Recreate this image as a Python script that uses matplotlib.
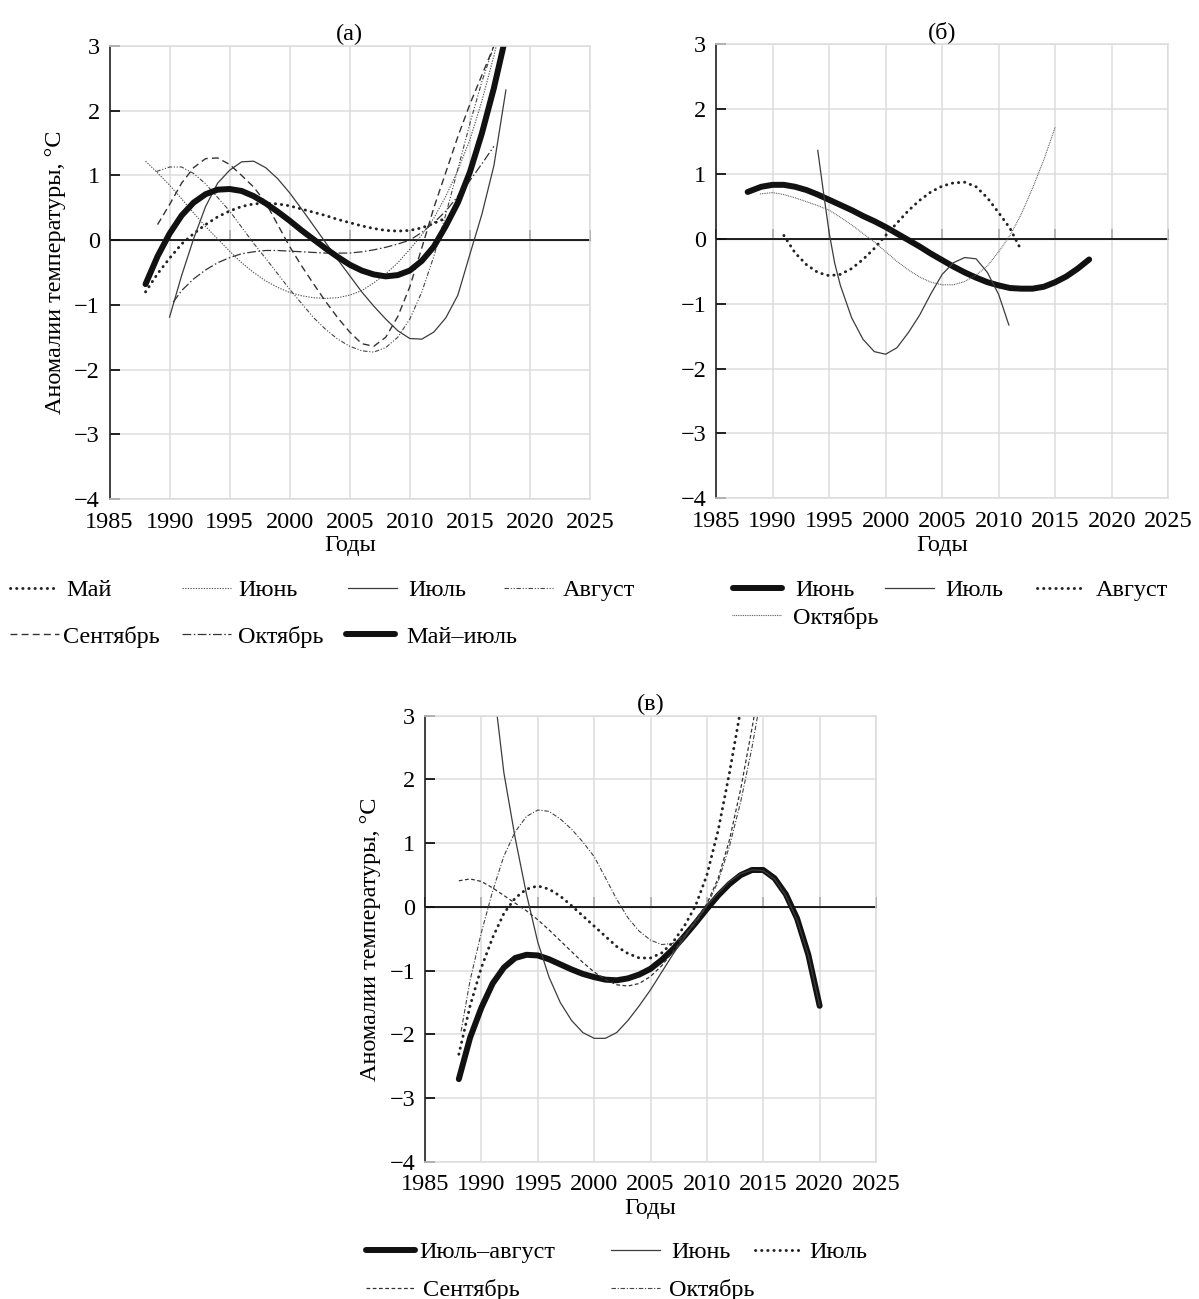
import matplotlib
matplotlib.use("Agg")
import matplotlib.pyplot as plt

plt.rcParams['font.family'] = ['Liberation Serif', 'DejaVu Serif']
plt.rcParams['axes.unicode_minus'] = True

W, H = 1199, 1299
FS = 17.5

# ---------------- panel (а) ----------------
a_may_x = [1988, 1989, 1990, 1991, 1992, 1993, 1994, 1995, 1996, 1997, 1998, 1999, 2000,
           2001, 2002, 2003, 2004, 2005, 2006, 2007, 2008, 2009, 2010, 2011, 2012, 2013]
a_may_y = [-0.80, -0.52, -0.28, -0.06, 0.10, 0.24, 0.36, 0.45, 0.52, 0.56, 0.57, 0.56, 0.53,
           0.48, 0.43, 0.38, 0.32, 0.27, 0.22, 0.18, 0.15, 0.14, 0.15, 0.19, 0.26, 0.34]

a_jun_x = [1988, 1989, 1990, 1991, 1992, 1993, 1994, 1995, 1996, 1997, 1998, 1999, 2000, 2001,
           2002, 2003, 2004, 2005, 2006, 2007, 2008, 2009, 2010, 2011, 2012, 2013, 2014, 2015,
           2016, 2017, 2017.2]
a_jun_y = [1.22, 1.04, 0.85, 0.64, 0.42, 0.21, 0.02, -0.17, -0.35, -0.50, -0.63, -0.73, -0.81,
           -0.86, -0.89, -0.90, -0.89, -0.85, -0.78, -0.66, -0.52, -0.35, -0.14, 0.08, 0.34,
           0.68, 1.08, 1.55, 2.15, 2.85, 3.0]

a_jul_x = [1990, 1991, 1992, 1993, 1994, 1995, 1996, 1997, 1998, 1999, 2000, 2001, 2002, 2003,
           2004, 2005, 2006, 2007, 2008, 2009, 2010, 2011, 2012, 2013, 2014, 2015, 2016, 2017,
           2018]
a_jul_y = [-1.19, -0.55, 0.02, 0.52, 0.88, 1.08, 1.21, 1.22, 1.12, 0.95, 0.73, 0.48, 0.22,
           -0.04, -0.30, -0.55, -0.80, -1.02, -1.22, -1.40, -1.52, -1.53, -1.42, -1.20, -0.85,
           -0.22, 0.40, 1.15, 2.32]

a_aug_x = [1988.9, 1990, 1991, 1992, 1993, 1994, 1995, 1996, 1997, 1998, 1999, 2000, 2001,
           2002, 2003, 2004, 2005, 2006, 2007, 2008, 2009, 2010, 2011, 2012, 2013, 2014, 2015,
           2016, 2017]
a_aug_y = [1.06, 1.13, 1.13, 1.03, 0.87, 0.66, 0.45, 0.20, -0.05, -0.28, -0.52, -0.76, -0.98,
           -1.20, -1.38, -1.53, -1.64, -1.71, -1.73, -1.66, -1.50, -1.22, -0.80, -0.25, 0.40,
           1.10, 1.80, 2.45, 3.0]

a_sep_x = [1989, 1990, 1991, 1992, 1993, 1994, 1995, 1996, 1997, 1998, 1999, 2000, 2001, 2002,
           2003, 2004, 2005, 2006, 2007, 2008, 2009, 2010, 2011, 2012, 2013, 2014, 2015, 2016,
           2017]
a_sep_y = [0.24, 0.55, 0.88, 1.12, 1.26, 1.27, 1.17, 1.00, 0.82, 0.58, 0.24, -0.10, -0.40,
           -0.68, -0.95, -1.20, -1.42, -1.60, -1.64, -1.50, -1.18, -0.72, -0.12, 0.50, 1.05,
           1.60, 2.10, 2.55, 3.0]

a_oct_x = [1990.3, 1991, 1992, 1993, 1994, 1995, 1996, 1997, 1998, 1999, 2000, 2001, 2002,
           2003, 2004, 2005, 2006, 2007, 2008, 2009, 2010, 2011, 2012, 2013, 2014, 2015, 2016,
           2017]
a_oct_y = [-0.96, -0.78, -0.60, -0.46, -0.35, -0.27, -0.21, -0.18, -0.16, -0.16, -0.17, -0.18,
           -0.19, -0.20, -0.20, -0.20, -0.18, -0.15, -0.11, -0.06, 0.00, 0.12, 0.27, 0.45, 0.68,
           0.92, 1.18, 1.45]

a_mj_x = [1988, 1989, 1990, 1991, 1992, 1993, 1994, 1995, 1996, 1997, 1998, 1999, 2000, 2001,
          2002, 2003, 2004, 2005, 2006, 2007, 2008, 2009, 2010, 2011, 2012, 2013, 2014, 2015,
          2016, 2017, 2017.8]
a_mj_y = [-0.68, -0.25, 0.10, 0.38, 0.58, 0.71, 0.78, 0.79, 0.76, 0.68, 0.57, 0.44, 0.30, 0.15,
          0.01, -0.13, -0.26, -0.38, -0.47, -0.53, -0.56, -0.54, -0.47, -0.32, -0.10, 0.22,
          0.58, 1.05, 1.65, 2.35, 3.0]

# ---------------- panel (б) ----------------
b_jun_x = [1987.8, 1989, 1990, 1991, 1992, 1993, 1994, 1995, 1996, 1997, 1998, 1999, 2000,
           2001, 2002, 2003, 2004, 2005, 2006, 2007, 2008, 2009, 2010, 2011, 2012, 2013, 2014,
           2015, 2016, 2017, 2018]
b_jun_y = [0.72, 0.80, 0.83, 0.83, 0.80, 0.75, 0.68, 0.60, 0.52, 0.44, 0.35, 0.27, 0.18, 0.08,
           -0.02, -0.12, -0.23, -0.33, -0.43, -0.52, -0.60, -0.67, -0.72, -0.76, -0.77, -0.77,
           -0.74, -0.67, -0.58, -0.46, -0.32]

b_jul_x = [1994, 1994.5, 1995, 1995.5, 1996, 1997, 1998, 1999, 2000, 2001, 2002, 2003, 2004,
           2005, 2006, 2007, 2008, 2009, 2010, 2010.9]
b_jul_y = [1.36, 0.72, 0.10, -0.38, -0.72, -1.22, -1.55, -1.74, -1.78, -1.68, -1.45, -1.18,
           -0.85, -0.55, -0.37, -0.29, -0.31, -0.52, -0.86, -1.33]

b_aug_x = [1991, 1992, 1993, 1994, 1995, 1996, 1997, 1998, 1999, 2000, 2001, 2002, 2003, 2004,
           2005, 2006, 2007, 2008, 2009, 2010, 2011, 2012]
b_aug_y = [0.05, -0.22, -0.40, -0.52, -0.57, -0.55, -0.46, -0.32, -0.15, 0.05, 0.24, 0.43,
           0.59, 0.72, 0.81, 0.86, 0.87, 0.80, 0.63, 0.40, 0.16, -0.18]

b_oct_x = [1988.9, 1990, 1991, 1992, 1993, 1994, 1995, 1996, 1997, 1998, 1999, 2000, 2001,
           2002, 2003, 2004, 2005, 2006, 2007, 2008, 2009, 2010, 2011, 2012, 2013, 2014, 2015]
b_oct_y = [0.69, 0.71, 0.68, 0.63, 0.57, 0.51, 0.44, 0.33, 0.21, 0.08, -0.05, -0.20, -0.35,
           -0.48, -0.59, -0.67, -0.71, -0.71, -0.66, -0.56, -0.42, -0.20, 0.05, 0.38, 0.78,
           1.22, 1.72]

# ---------------- panel (в) ----------------
c_ja_x = [1988, 1989, 1990, 1991, 1992, 1993, 1994, 1995, 1996, 1997, 1998, 1999, 2000, 2001,
          2002, 2003, 2004, 2005, 2006, 2007, 2008, 2009, 2010, 2011, 2012, 2013, 2014, 2015,
          2016, 2017, 2018, 2019, 2020]
c_ja_y = [-2.70, -2.05, -1.58, -1.20, -0.95, -0.80, -0.75, -0.76, -0.82, -0.90, -0.98, -1.05,
          -1.10, -1.14, -1.15, -1.12, -1.06, -0.97, -0.83, -0.66, -0.46, -0.25, -0.03, 0.18,
          0.36, 0.50, 0.58, 0.58, 0.45, 0.20, -0.18, -0.75, -1.55]

c_jun_x = [1991.4, 1992, 1993, 1994, 1995, 1996, 1997, 1998, 1999, 2000, 2001, 2002, 2003,
           2004, 2005, 2006, 2007, 2008, 2009, 2010, 2011, 2012, 2013, 2014, 2015, 2016, 2017,
           2018, 2019, 2020]
c_jun_y = [3.0, 2.1, 1.08, 0.20, -0.55, -1.10, -1.50, -1.78, -1.97, -2.06, -2.06, -1.97,
           -1.78, -1.55, -1.30, -1.02, -0.74, -0.48, -0.22, 0.02, 0.22, 0.40, 0.52, 0.58, 0.57,
           0.44, 0.18, -0.20, -0.76, -1.55]

c_jul_x = [1988, 1989, 1990, 1991, 1992, 1993, 1994, 1995, 1996, 1997, 1998, 1999, 2000, 2001,
           2002, 2003, 2004, 2005, 2006, 2007, 2008, 2009, 2010, 2011, 2012, 2012.9]
c_jul_y = [-2.31, -1.55, -0.95, -0.48, -0.10, 0.14, 0.28, 0.33, 0.28, 0.17, 0.02, -0.14,
           -0.30, -0.46, -0.62, -0.73, -0.80, -0.80, -0.72, -0.55, -0.30, 0.02, 0.50, 1.20,
           2.10, 3.0]

c_sep_x = [1988, 1989, 1990, 1991, 1992, 1993, 1994, 1995, 1996, 1997, 1998, 1999, 2000, 2001,
           2002, 2003, 2004, 2005, 2006, 2007, 2008, 2009, 2010, 2011, 2012, 2013, 2014, 2014.2]
c_sep_y = [0.41, 0.44, 0.40, 0.30, 0.18, 0.06, -0.06, -0.20, -0.36, -0.53, -0.70, -0.87,
           -1.02, -1.14, -1.22, -1.24, -1.20, -1.09, -0.92, -0.70, -0.45, -0.20, 0.05, 0.45,
           1.05, 1.85, 2.80, 3.0]

c_oct_x = [1988.2, 1989, 1990, 1991, 1992, 1993, 1994, 1995, 1996, 1997, 1998, 1999, 2000,
           2001, 2002, 2003, 2004, 2005, 2006, 2007, 2008, 2009, 2010, 2011, 2012, 2013, 2014,
           2014.5]
c_oct_y = [-1.95, -1.15, -0.40, 0.25, 0.80, 1.18, 1.42, 1.52, 1.50, 1.38, 1.22, 1.02, 0.79,
           0.46, 0.12, -0.17, -0.38, -0.52, -0.59, -0.57, -0.45, -0.25, 0.02, 0.40, 0.95, 1.65,
           2.50, 3.0]

year_ticks = [1985, 1990, 1995, 2000, 2005, 2010, 2015, 2020, 2025]
val_ticks = [-4, -3, -2, -1, 0, 1, 2, 3]

# line styles
THICK = dict(color='#111111', lw=4.3, solid_capstyle='round')
THIN = dict(color='#3c3c3c', lw=0.9)
DOTS = dict(color='#222222', lw=2.1, linestyle=(0, (0.1, 2.0)), dash_capstyle='round')
FINEDOT = dict(color='#555555', lw=0.8, linestyle=(0, (1.2, 1.2)))
DASHED = dict(color='#333333', lw=1.0, linestyle=(0, (5, 3)))
DASHDOTDOT = dict(color='#444444', lw=0.8, linestyle=(0, (4, 1.6, 1, 1.6, 1, 1.6)))
DASHDOT = dict(color='#333333', lw=0.9, linestyle=(0, (7, 2, 1.2, 2)))
C_DASHED = dict(color='#333333', lw=0.9, linestyle=(0, (3, 2)))
C_DASHDOT = dict(color='#444444', lw=0.8, linestyle=(0, (4, 1.6, 1, 1.6)))

fig = plt.figure(figsize=(W / 100, H / 100), dpi=100)


def make_axes(left, top, right, bottom, title, ylabel=None):
    ax = fig.add_axes([left / W, 1 - bottom / H, (right - left) / W, (bottom - top) / H])
    ax.set_xlim(1985, 2025)
    ax.set_ylim(-4, 3)
    ax.set_xticks(year_ticks)
    ax.set_yticks(val_ticks)
    ax.grid(True, color='#dcdcdc', lw=1.1)
    ax.set_axisbelow(True)
    for s in ['top', 'right', 'bottom']:
        ax.spines[s].set_color('#dcdcdc')
        ax.spines[s].set_linewidth(1.1)
    ax.spines['left'].set_color('#222222')
    ax.spines['left'].set_linewidth(1.2)
    ax.tick_params(axis='x', length=0, pad=9, labelsize=FS)
    ax.tick_params(axis='y', direction='in', length=7, width=1.2, pad=7, labelsize=FS)
    # zero axis with upward ticks
    ax.axhline(0, color='#111111', lw=1.3, zorder=1.5)
    sec = ax.secondary_xaxis(4 / 7)
    sec.set_xticks(year_ticks, labels=[''] * len(year_ticks))
    sec.tick_params(direction='out', length=7, width=1.2, color='#111111')
    sec.spines['bottom'].set_color('#111111')
    sec.spines['bottom'].set_linewidth(1.3)
    ax.set_title(title, fontsize=FS, pad=4)
    ax.set_xlabel('Годы', fontsize=FS, labelpad=2)
    if ylabel:
        ax.set_ylabel(ylabel, fontsize=FS, labelpad=6)
    return ax


def put_legend(line, label, x, y, pad=0.35):
    fig.legend([line], [label], loc='center left', bbox_to_anchor=(x / W, 1 - y / H),
               frameon=False, fontsize=FS, handlelength=2.0, handletextpad=pad,
               borderpad=0, borderaxespad=0)


ylab = 'Аномалии температуры, °C'

# (а)
ax1 = make_axes(109.5, 46, 590, 499, '(а)', ylab)
l_may, = ax1.plot(a_may_x, a_may_y, **DOTS)
l_jun, = ax1.plot(a_jun_x, a_jun_y, **FINEDOT)
l_jul, = ax1.plot(a_jul_x, a_jul_y, **THIN)
l_aug, = ax1.plot(a_aug_x, a_aug_y, **DASHDOTDOT)
l_sep, = ax1.plot(a_sep_x, a_sep_y, **DASHED)
l_oct, = ax1.plot(a_oct_x, a_oct_y, **DASHDOT)
l_mj, = ax1.plot(a_mj_x, a_mj_y, **THICK)

put_legend(l_may, 'Май', 10, 590, 0.3)
put_legend(l_jun, 'Июнь', 182, 590, 0.3)
put_legend(l_jul, 'Июль', 348, 590, 0.5)
put_legend(l_aug, 'Август', 504, 590, 0.4)
put_legend(l_sep, 'Сентябрь', 10, 637, 0.2)
put_legend(l_oct, 'Октябрь', 182, 637, 0.3)
put_legend(l_mj, 'Май–июль', 346, 637, 0.5)

# (б)
ax2 = make_axes(716, 44, 1168.3, 498.3, '(б)')
m_jun, = ax2.plot(b_jun_x, b_jun_y, **THICK)
m_jul, = ax2.plot(b_jul_x, b_jul_y, **THIN)
m_aug, = ax2.plot(b_aug_x, b_aug_y, **DOTS)
m_oct, = ax2.plot(b_oct_x, b_oct_y, **dict(FINEDOT, linestyle=(0, (0.8, 0.8))))

put_legend(m_jun, 'Июнь', 733, 590, 0.55)
put_legend(m_jul, 'Июль', 885, 590, 0.5)
put_legend(m_aug, 'Август', 1037, 590, 0.4)
put_legend(m_oct, 'Октябрь', 732, 618, 0.5)

# (в)
ax3 = make_axes(425, 715.7, 876, 1162, '(в)', ylab)
n_ja, = ax3.plot(c_ja_x, c_ja_y, **THICK)
n_jun, = ax3.plot(c_jun_x, c_jun_y, **THIN)
n_jul, = ax3.plot(c_jul_x, c_jul_y, **DOTS)
n_sep, = ax3.plot(c_sep_x, c_sep_y, **C_DASHED)
n_oct, = ax3.plot(c_oct_x, c_oct_y, **C_DASHDOT)

put_legend(n_ja, 'Июль–август', 366, 1252, 0.2)
put_legend(n_jun, 'Июнь', 611, 1252, 0.5)
put_legend(n_jul, 'Июль', 755, 1252, 0.25)
put_legend(n_sep, 'Сентябрь', 366, 1290, 0.35)
put_legend(n_oct, 'Октябрь', 611, 1290, 0.4)

fig.savefig('out.png', dpi=100)
